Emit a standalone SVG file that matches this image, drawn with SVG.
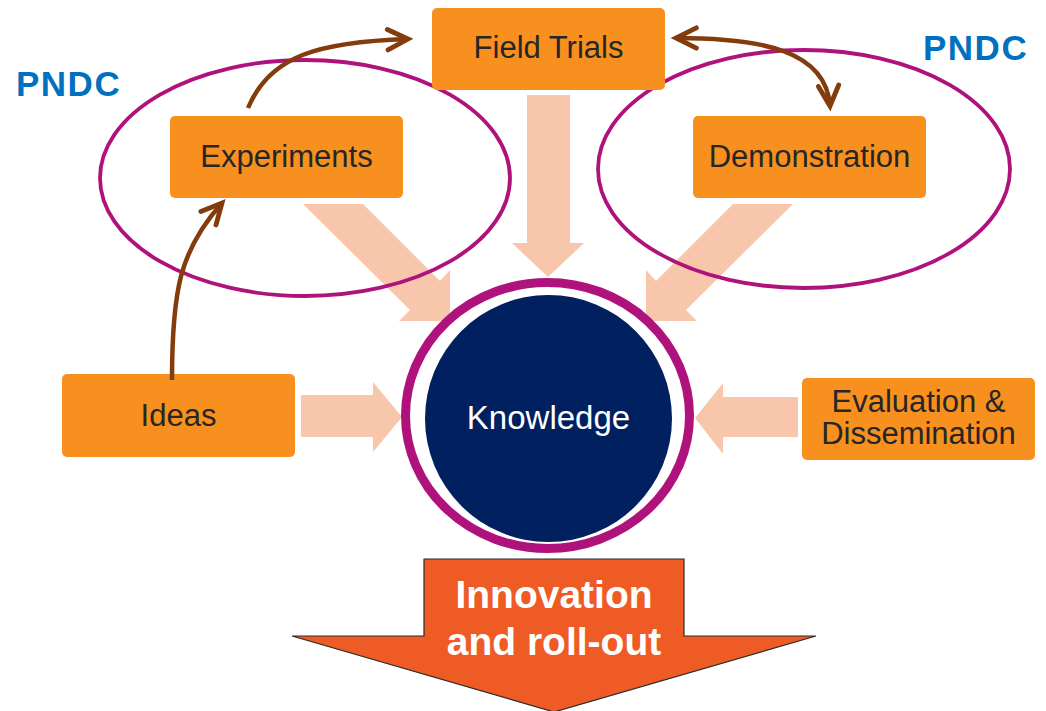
<svg xmlns="http://www.w3.org/2000/svg" width="1046" height="711" viewBox="0 0 1046 711">
  <style>
    .box { fill: #F7901E; }
    .label { font-family: "Liberation Sans", Arial, sans-serif; font-size: 31px; fill: #262626; text-anchor: middle; }
    .pndc { font-family: "Liberation Sans", Arial, sans-serif; font-size: 35px; font-weight: bold; fill: #0070C0; letter-spacing: 1.5px; }
    .scope { fill: none; stroke: #B0127C; stroke-width: 3.8; }
    .flow { fill: #F8C7AB; }
    .link { fill: none; stroke: #843C0C; stroke-width: 4.5; }
  </style>
  <defs>
    <marker id="chevron" markerUnits="userSpaceOnUse" markerWidth="30" markerHeight="30" viewBox="-24 -14 28 28" refX="0" refY="0" orient="auto-start-reverse" overflow="visible">
      <path d="M-19,-9.5 L0,0 L-19,9.5" fill="none" stroke="#843C0C" stroke-width="4.5" stroke-linecap="round" stroke-linejoin="miter"/>
    </marker>
  </defs>

  <rect width="1046" height="711" fill="#FFFFFF"/>

  <!-- feeder arrows into the knowledge core -->
  <g id="connectors">
    <polygon class="flow" points="527,95 570,95 570,243 584,243 548,277 512,243 527,243"/>
    <polygon class="flow" points="303,204 363,204 440,281 450,270 450,321 399,321 410,310"/>
    <polygon class="flow" points="793,204 733,204 656,281 646,270 646,321 697,321 686,310"/>
    <polygon class="flow" points="301,395 373,395 373,382 402,417 373,452 373,437 301,437"/>
    <polygon class="flow" points="798,397 723,397 723,383 695,418 723,454 723,437 798,437"/>
  </g>

  <!-- PNDC scope rings -->
  <g id="scope-left">
    <ellipse class="scope" cx="305" cy="178" rx="205" ry="118"/>
    <text class="pndc" x="16" y="96">PNDC</text>
  </g>
  <g id="scope-right">
    <ellipse class="scope" cx="804" cy="169" rx="206" ry="119"/>
    <text class="pndc" x="923" y="60">PNDC</text>
  </g>

  <g id="field-trials">
    <rect class="box" x="432" y="8" width="233" height="82" rx="5"/>
    <text class="label" x="548.5" y="58">Field Trials</text>
  </g>
  <g id="experiments">
    <rect class="box" x="170" y="116" width="233" height="82" rx="5"/>
    <text class="label" x="286.5" y="167">Experiments</text>
  </g>
  <g id="demonstration">
    <rect class="box" x="693" y="116" width="233" height="82" rx="5"/>
    <text class="label" x="809.5" y="167">Demonstration</text>
  </g>
  <g id="ideas">
    <rect class="box" x="62" y="374" width="233" height="83" rx="5"/>
    <text class="label" x="178.5" y="426">Ideas</text>
  </g>
  <g id="evaluation">
    <rect class="box" x="802" y="378" width="233" height="82" rx="5"/>
    <text class="label" x="918.5" y="412">Evaluation &amp;</text>
    <text class="label" x="918.5" y="444">Dissemination</text>
  </g>

  <g id="knowledge">
    <ellipse cx="547.5" cy="415.5" rx="142" ry="133" fill="#FFFFFF" stroke="#B0127C" stroke-width="9"/>
    <circle cx="548.5" cy="418.5" r="123.5" fill="#00205F"/>
    <text x="548.5" y="429" font-family="Liberation Sans, Arial, sans-serif" font-size="33" fill="#FFFFFF" text-anchor="middle">Knowledge</text>
  </g>

  <g id="innovation">
    <polygon points="424,559 684,559 684,636 816,636 554,712 292,636 424,636" fill="#EE5B24" stroke="#2B2B2B" stroke-width="1.2" stroke-linejoin="miter"/>
    <text x="554" y="608" font-family="Liberation Sans, Arial, sans-serif" font-size="39" font-weight="bold" fill="#FFFFFF" text-anchor="middle">Innovation</text>
    <text x="554" y="655" font-family="Liberation Sans, Arial, sans-serif" font-size="39" font-weight="bold" fill="#FFFFFF" text-anchor="middle">and roll-out</text>
  </g>

  <!-- progression links -->
  <g id="links">
    <path class="link" d="M248,108 C270,55 320,42 408,39" marker-end="url(#chevron)"/>
    <path class="link" d="M676,38 C760,38 826,50 830,106" marker-start="url(#chevron)" marker-end="url(#chevron)"/>
    <path class="link" d="M172,380 C172,290 180,250 222,203" marker-end="url(#chevron)"/>
  </g>
</svg>
